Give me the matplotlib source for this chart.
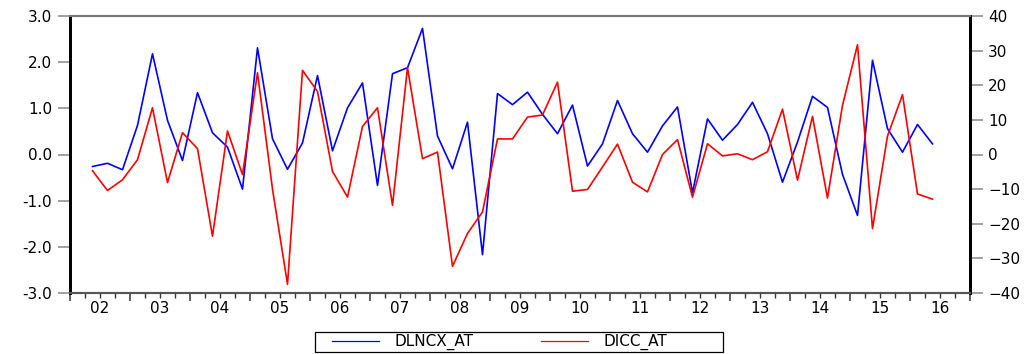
import numpy as np
import matplotlib
matplotlib.use("Agg")
import matplotlib.pyplot as plt
from matplotlib.patches import Rectangle
from matplotlib.ticker import FixedLocator, MultipleLocator

# quarterly series, 2002Q2 .. 2016Q2
start_year, start_quarter = 2002, 2

dlncx_at = [-0.26, -0.19, -0.33, 0.63, 2.18, 0.74, -0.13, 1.34, 0.47, 0.16,
            -0.75, 2.31, 0.34, -0.32, 0.25, 1.71, 0.08, 1.01, 1.55, -0.67,
            1.75, 1.88, 2.73, 0.40, -0.31, 0.70, -2.17, 1.32, 1.08, 1.35,
            0.87, 0.45, 1.07, -0.25, 0.23, 1.17, 0.45, 0.05, 0.62, 1.03,
            -0.83, 0.77, 0.31, 0.65, 1.13, 0.45, -0.60, 0.27, 1.26, 1.02,
            -0.43, -1.32, 2.04, 0.56, 0.05, 0.65, 0.23]

dicc_at = [-4.7, -10.4, -7.3, -1.5, 13.5, -8.1, 6.3, 1.7, -23.6, 6.8,
           -5.8, 23.6, -10.0, -37.5, 24.3, 18.2, -4.9, -12.3, 8.1, 13.5,
           -14.7, 25.1, -1.2, 0.7, -32.3, -22.8, -16.6, 4.5, 4.5, 10.8,
           11.4, 20.9, -10.6, -10.1, -3.6, 3.0, -8.0, -10.8, 0.0, 4.3,
           -12.3, 3.1, -0.4, 0.2, -1.5, 0.8, 13.1, -7.4, 11.0, -12.6,
           14.2, 31.7, -21.4, 5.3, 17.3, -11.4, -12.9]

year_labels = ["02", "03", "04", "05", "06", "07", "08", "09",
               "10", "11", "12", "13", "14", "15", "16"]

q0 = start_quarter - 1
x = np.array([start_year + (q0 + k + 0.5) / 4 for k in range(len(dlncx_at))])

plt.rcParams["font.family"] = ["DejaVu Sans"]

W, H = 1029, 354
fig = plt.figure(figsize=(W / 100, H / 100), dpi=100)
ax = fig.add_axes([70 / W, 1 - 293 / H, 900 / W, 277 / H])
ax2 = ax.twinx()

l1, = ax.plot(x, dlncx_at, color="#0000ff", lw=1.2)
l2, = ax2.plot(x, dicc_at, color="#ff0000", lw=1.2)

ax.set_xlim(2002, 2017)
ax.set_ylim(-3, 3)
ax2.set_ylim(-40, 40)

ax.set_yticks(np.arange(-3, 3.01, 1.0))
ax.set_yticklabels([f"{v:.1f}" for v in np.arange(-3, 3.01, 1.0)])
ax2.set_yticks(np.arange(-40, 41, 10))

# year boundaries as major ticks, quarters as minor ticks
ax.xaxis.set_major_locator(FixedLocator(np.arange(2002, 2018)))
ax.xaxis.set_minor_locator(MultipleLocator(0.25))
ax.set_xticklabels([])
ax.tick_params(axis="x", which="major", length=6, width=1.1, color="#333333")
ax.tick_params(axis="x", which="minor", length=3.5, width=1.0, color="#333333")
for i, lab in enumerate(year_labels):
    ax.text(2002.5 + i, -0.03, lab, transform=ax.get_xaxis_transform(),
            ha="center", va="top", fontsize=11)

ax.tick_params(axis="y", which="major", length=9, width=1.1, pad=4,
               labelsize=11, color="#888888")
ax2.tick_params(axis="y", which="major", length=9, width=1.1, pad=4,
                labelsize=11, color="#888888")

for a in (ax, ax2):
    a.spines["top"].set_color("#777777")
    a.spines["top"].set_linewidth(1.5)
    a.spines["bottom"].set_color("#555555")
    a.spines["bottom"].set_linewidth(1.5)
    a.spines["left"].set_color("black")
    a.spines["left"].set_linewidth(2)
    a.spines["right"].set_color("black")
    a.spines["right"].set_linewidth(2)

# legend entries without frame; box drawn separately below the plot
leg = fig.legend([l1, l2], ["DLNCX_AT", "DICC_AT"], loc="center left",
                 bbox_to_anchor=(332 / W, 1 - 342 / H), ncol=2, frameon=False,
                 fontsize=11, handlelength=3.1, handletextpad=1.0,
                 columnspacing=4.4, borderpad=0, borderaxespad=0)
for h in leg.get_lines():
    h.set_linewidth(0.9)
fig.patches.append(Rectangle((315 / W, 1 - 352 / H), 408 / W, 20 / H,
                             transform=fig.transFigure, fill=False,
                             edgecolor="black", linewidth=0.9))

fig.savefig("out.png", dpi=100)
